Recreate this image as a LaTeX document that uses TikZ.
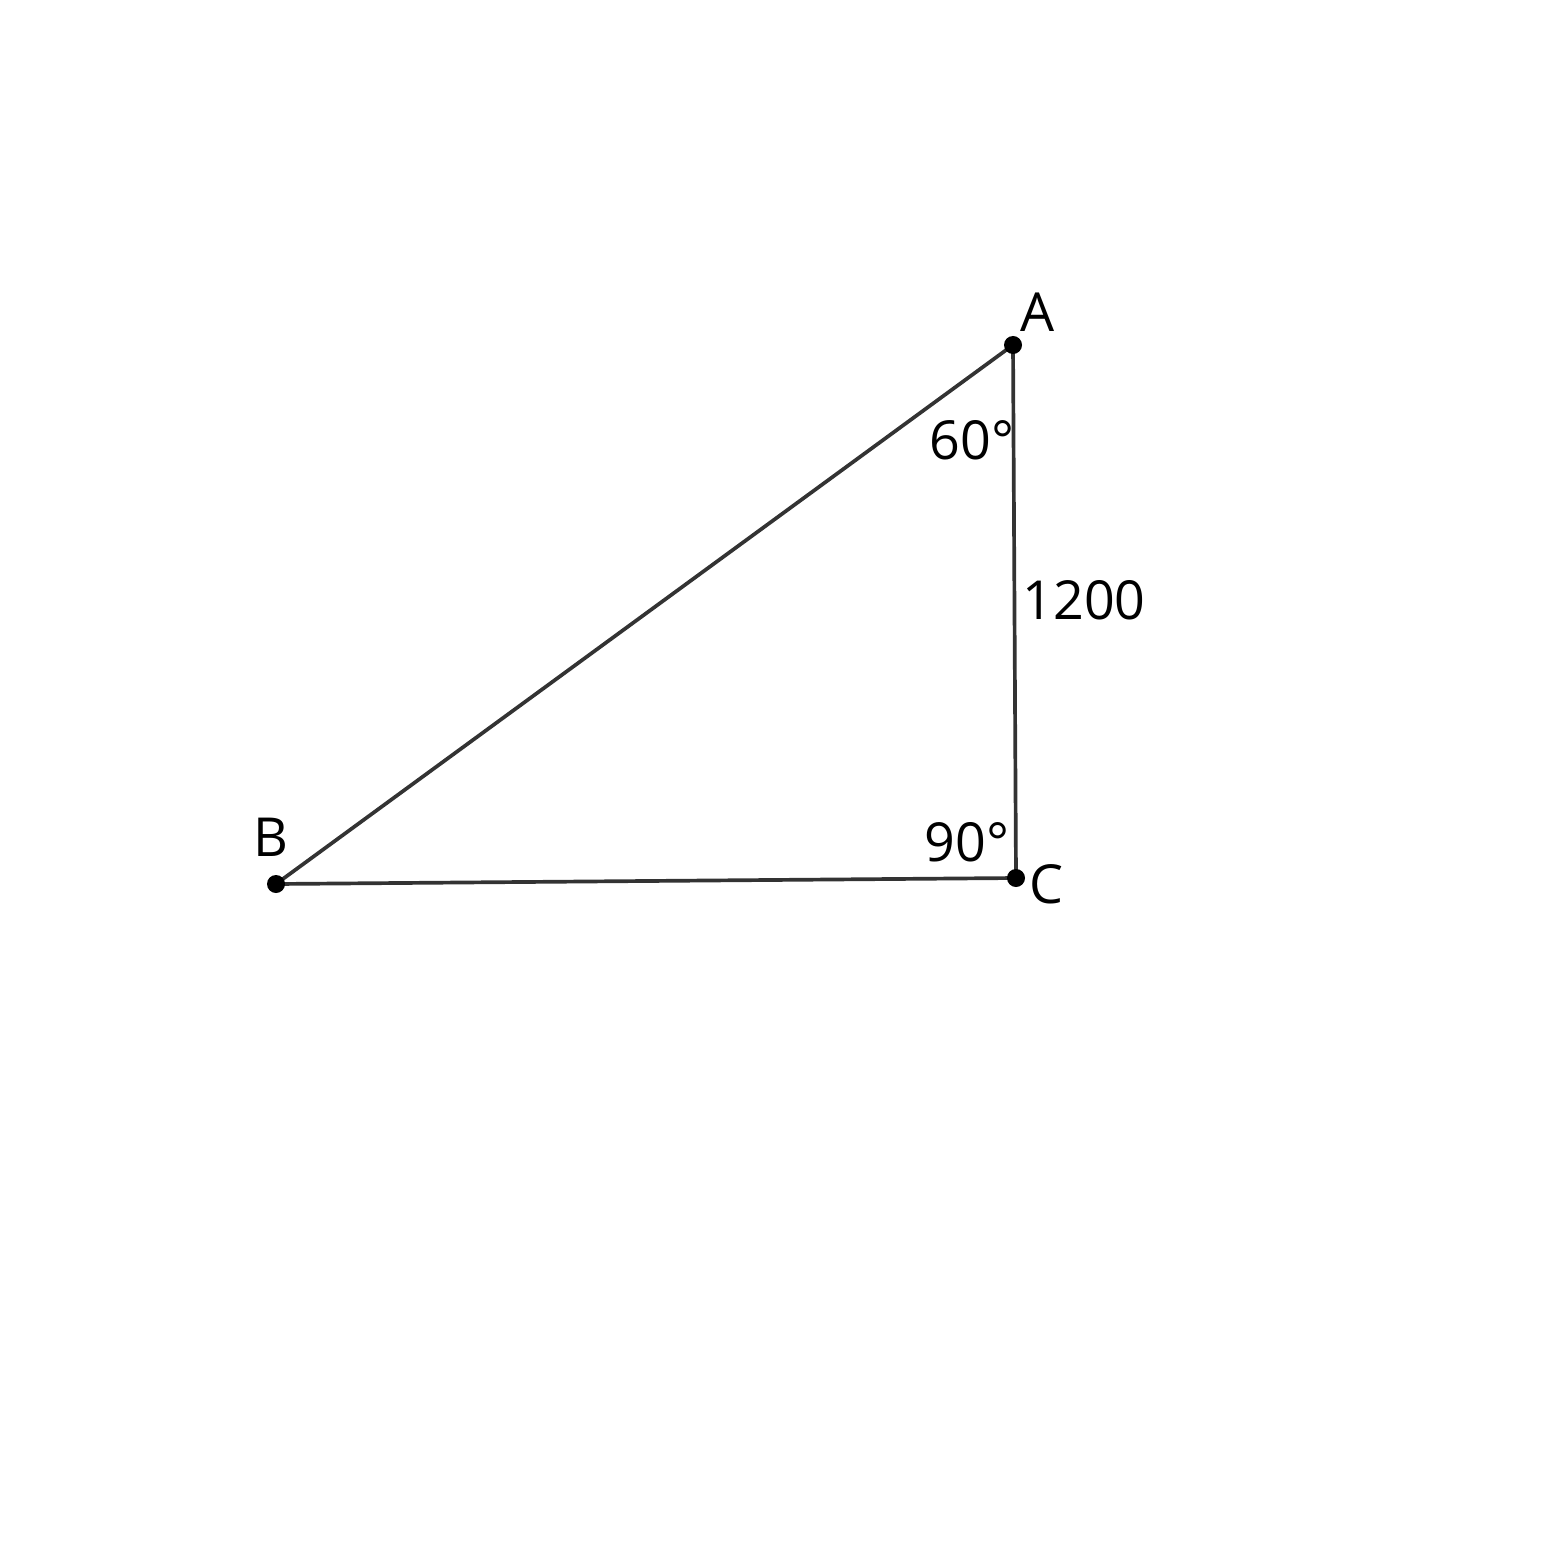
\documentclass[tikz,border=0pt]{standalone}
\usepackage{fontspec}
\setmainfont{Open Sans}
\begin{document}
\begin{tikzpicture}[x=0.01cm,y=-0.01cm,
  edge/.style={draw=black!80, line width=1.05pt},
  dot/.style={circle, fill=black, inner sep=0pt, minimum size=0.18cm},
  lbl/.style={font=\fontsize{15.3}{18}\selectfont, inner sep=0pt, text=black}]
\useasboundingbox (0,0) rectangle (1546,1546);
\coordinate (A) at (1013,345);
\coordinate (B) at (276,884);
\coordinate (C) at (1016,878);
\draw[edge] (A) -- (B) -- (C) -- cycle;
\node[dot] (dA) at (A) {};
\node[dot] (dB) at (B) {};
\node[dot] (dC) at (C) {};
\node[lbl] (lA) at (1038,312) {A};
\node[lbl] (lB) at (271,837) {B};
\node[lbl] (lC) at (1046,884) {C};
\node[lbl] (a60) at (972,440) {60°};
\node[lbl] (a90) at (967,842) {90°};
\node[lbl] (len) at (1084,600) {1200};
\end{tikzpicture}
\end{document}
